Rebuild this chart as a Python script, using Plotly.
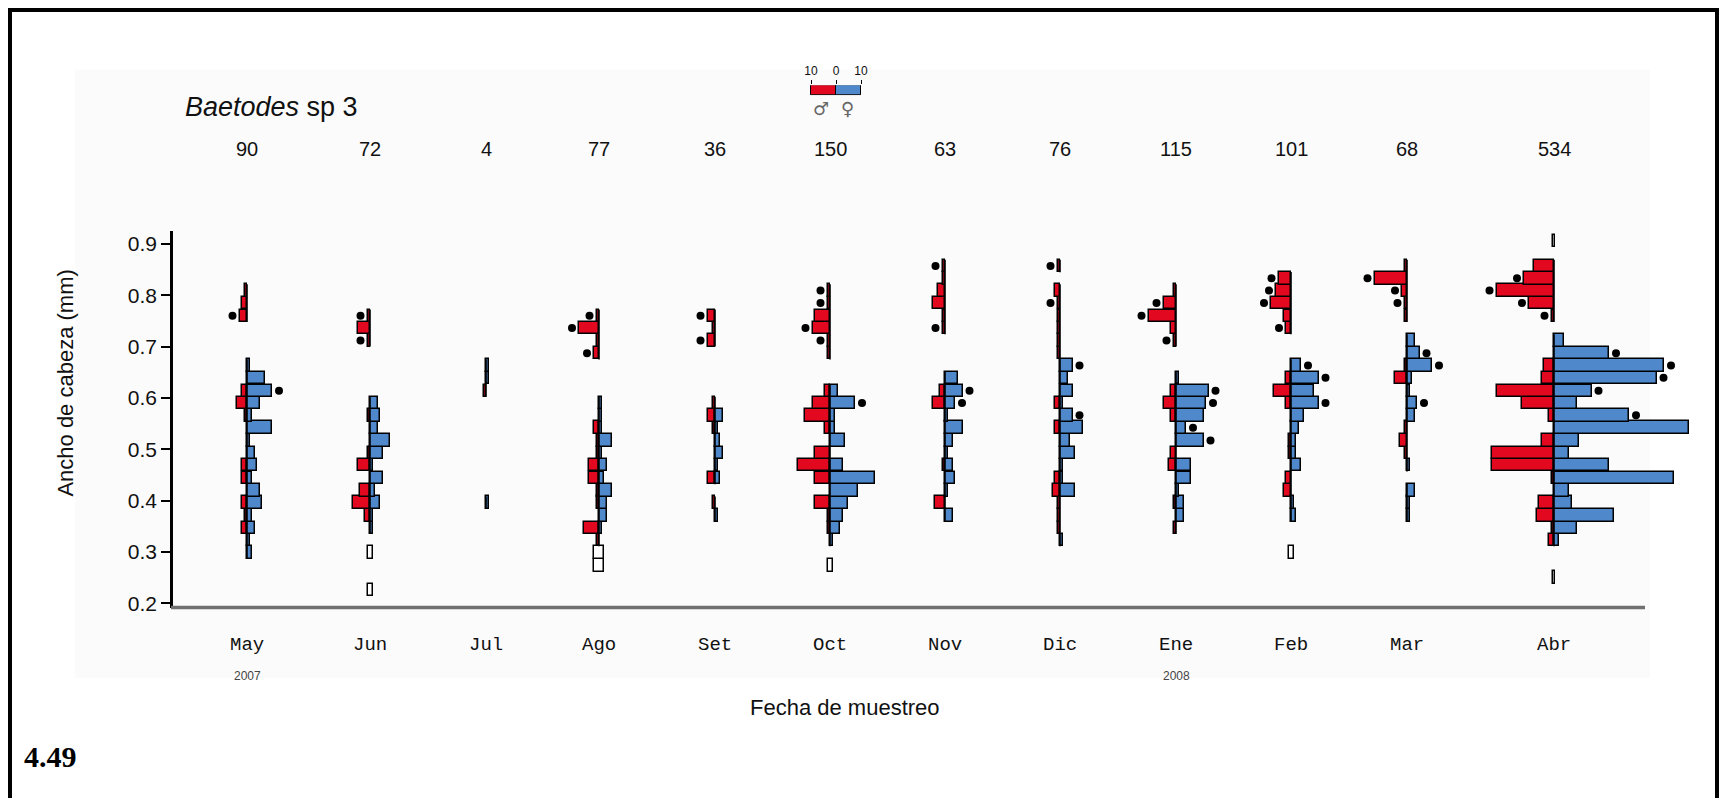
import plotly.graph_objects as go

# ---------------------------------------------------------------------------
# Head-width size classes (bin midpoints, mm) shared by every sampling month
# ---------------------------------------------------------------------------
BIN_MID = [0.226, 0.250, 0.274, 0.299, 0.323, 0.347, 0.371, 0.396, 0.420, 0.444,
           0.469, 0.493, 0.517, 0.542, 0.566, 0.590, 0.614, 0.639, 0.663, 0.687,
           0.712, 0.736, 0.760, 0.785, 0.809, 0.833, 0.857, 0.882, 0.906]
BIN_WIDTH = 0.0243

MONTHS = ["May", "Jun", "Jul", "Ago", "Set", "Oct", "Nov", "Dic", "Ene", "Feb", "Mar", "Abr"]
N_TOTAL = [90, 72, 4, 77, 36, 150, 63, 76, 115, 101, 68, 534]
YEAR_LABELS = {"May": "2007", "Ene": "2008"}
Y_TICKS = [0.2, 0.3, 0.4, 0.5, 0.6, 0.7, 0.8, 0.9]
LEGEND_SCALE = 10

# counts per size class: {bin midpoint: individuals}
may_male = {0.347: 2, 0.371: 1, 0.396: 2, 0.444: 2, 0.469: 2, 0.566: 1, 0.590: 4, 0.614: 2,
            0.760: 3, 0.785: 2, 0.809: 1}
may_female = {0.299: 2, 0.323: 1, 0.347: 3, 0.371: 2, 0.396: 6, 0.420: 5, 0.444: 2, 0.469: 4,
              0.493: 3, 0.517: 1, 0.542: 10, 0.566: 2, 0.590: 5, 0.614: 10, 0.639: 7, 0.663: 1}
may_undet = {}
may_dots_m = [0.760]
may_dots_f = [0.614]

jun_male = {0.371: 2, 0.396: 7, 0.420: 4, 0.469: 5, 0.493: 1, 0.566: 1, 0.712: 1, 0.736: 5, 0.760: 1}
jun_female = {0.347: 1, 0.371: 1, 0.396: 4, 0.420: 2, 0.444: 5, 0.469: 1, 0.493: 5, 0.517: 8,
              0.542: 3, 0.566: 4, 0.590: 3}
jun_undet = {0.226: 2, 0.299: 2}
jun_dots_m = [0.760, 0.712]
jun_dots_f = []

jul_male = {0.614: 1}
jul_female = {0.396: 1, 0.639: 1, 0.663: 1}
jul_undet = {}
jul_dots_m = []
jul_dots_f = []

ago_male = {0.323: 1, 0.347: 6, 0.396: 1, 0.420: 1, 0.444: 4, 0.469: 4, 0.493: 1, 0.517: 1,
            0.542: 2, 0.687: 2, 0.712: 1, 0.736: 8, 0.760: 1}
ago_female = {0.347: 1, 0.371: 3, 0.396: 3, 0.420: 5, 0.444: 2, 0.469: 3, 0.493: 1, 0.517: 5,
              0.542: 1, 0.566: 1, 0.590: 1}
ago_undet = {0.274: 4, 0.299: 4}
ago_dots_m = [0.760, 0.736, 0.687]
ago_dots_f = []

set_male = {0.396: 1, 0.444: 3, 0.542: 1, 0.566: 3, 0.590: 1, 0.712: 3, 0.736: 1, 0.760: 3}
set_female = {0.371: 1, 0.444: 2, 0.469: 1, 0.493: 3, 0.517: 2, 0.542: 1, 0.566: 3}
set_undet = {}
set_dots_m = [0.760, 0.712]
set_dots_f = []

oct_male = {0.347: 1, 0.371: 1, 0.396: 6, 0.444: 6, 0.469: 13, 0.493: 6, 0.542: 2, 0.566: 10,
            0.590: 7, 0.614: 2, 0.687: 1, 0.712: 1, 0.736: 7, 0.760: 6, 0.785: 1, 0.809: 1}
oct_female = {0.323: 1, 0.347: 4, 0.371: 5, 0.396: 7, 0.420: 11, 0.444: 18, 0.469: 5, 0.517: 6,
              0.542: 2, 0.566: 2, 0.590: 10, 0.614: 3}
oct_undet = {0.274: 2}
oct_dots_m = [0.809, 0.785, 0.736, 0.712]
oct_dots_f = [0.590]

nov_male = {0.396: 4, 0.469: 1, 0.590: 5, 0.614: 2, 0.736: 1, 0.760: 1, 0.785: 5, 0.809: 3,
            0.833: 1, 0.857: 1}
nov_female = {0.371: 3, 0.420: 1, 0.444: 4, 0.469: 3, 0.493: 1, 0.517: 3, 0.542: 7, 0.566: 1,
              0.590: 4, 0.614: 7, 0.639: 5}
nov_undet = {}
nov_dots_m = [0.857, 0.736]
nov_dots_f = [0.614, 0.590]

dic_male = {0.347: 1, 0.371: 1, 0.396: 1, 0.420: 3, 0.444: 2, 0.542: 2, 0.590: 2, 0.687: 1,
            0.712: 1, 0.736: 1, 0.760: 1, 0.785: 1, 0.809: 2, 0.857: 1}
dic_female = {0.323: 1, 0.420: 6, 0.444: 1, 0.469: 1, 0.493: 6, 0.517: 4, 0.542: 9, 0.566: 5,
              0.590: 1, 0.614: 5, 0.639: 3, 0.663: 5}
dic_undet = {}
dic_dots_m = [0.857, 0.785]
dic_dots_f = [0.663, 0.566]

ene_male = {0.347: 1, 0.396: 1, 0.469: 3, 0.493: 2, 0.566: 2, 0.590: 5, 0.614: 2, 0.712: 1,
            0.736: 2, 0.760: 11, 0.785: 5, 0.809: 1}
ene_female = {0.371: 3, 0.396: 3, 0.420: 1, 0.444: 6, 0.469: 6, 0.517: 11, 0.542: 4, 0.566: 11,
              0.590: 12, 0.614: 13, 0.639: 1}
ene_undet = {}
ene_dots_m = [0.785, 0.760, 0.712]
ene_dots_f = [0.614, 0.590, 0.542, 0.517]

feb_male = {0.420: 3, 0.444: 2, 0.493: 1, 0.517: 1, 0.590: 2, 0.614: 7, 0.639: 2, 0.736: 2,
            0.760: 3, 0.785: 8, 0.809: 6, 0.833: 5}
feb_female = {0.371: 2, 0.396: 1, 0.469: 4, 0.493: 2, 0.517: 2, 0.542: 3, 0.566: 5, 0.590: 11,
              0.614: 9, 0.639: 11, 0.663: 4}
feb_undet = {0.299: 2}
feb_dots_m = [0.833, 0.809, 0.785, 0.736]
feb_dots_f = [0.663, 0.639, 0.590]

mar_male = {0.493: 1, 0.517: 3, 0.542: 1, 0.639: 5, 0.663: 1, 0.760: 1, 0.785: 1, 0.809: 2,
            0.833: 13, 0.857: 1}
mar_female = {0.371: 1, 0.396: 1, 0.420: 3, 0.469: 1, 0.566: 3, 0.590: 4, 0.614: 1, 0.639: 2,
              0.663: 10, 0.687: 5, 0.712: 3}
mar_undet = {}
mar_dots_m = [0.833, 0.809, 0.785]
mar_dots_f = [0.687, 0.663, 0.590]

abr_male = {0.323: 2, 0.347: 1, 0.371: 7, 0.396: 6, 0.444: 1, 0.469: 25, 0.493: 25, 0.517: 5,
            0.566: 2, 0.590: 13, 0.614: 23, 0.639: 5, 0.663: 4, 0.760: 1, 0.785: 10, 0.809: 23,
            0.833: 12, 0.857: 8}
abr_female = {0.323: 2, 0.347: 9, 0.371: 24, 0.396: 7, 0.420: 6, 0.444: 48, 0.469: 22, 0.493: 6,
              0.517: 10, 0.542: 54, 0.566: 30, 0.590: 9, 0.614: 15, 0.639: 41, 0.663: 44,
              0.687: 22, 0.712: 4}
abr_undet = {0.250: 1, 0.906: 1}
abr_dots_m = [0.833, 0.809, 0.785, 0.760]
abr_dots_f = [0.687, 0.663, 0.639, 0.614, 0.566]

SAMPLES = [
    (may_male, may_female, may_undet, may_dots_m, may_dots_f),
    (jun_male, jun_female, jun_undet, jun_dots_m, jun_dots_f),
    (jul_male, jul_female, jul_undet, jul_dots_m, jul_dots_f),
    (ago_male, ago_female, ago_undet, ago_dots_m, ago_dots_f),
    (set_male, set_female, set_undet, set_dots_m, set_dots_f),
    (oct_male, oct_female, oct_undet, oct_dots_m, oct_dots_f),
    (nov_male, nov_female, nov_undet, nov_dots_m, nov_dots_f),
    (dic_male, dic_female, dic_undet, dic_dots_m, dic_dots_f),
    (ene_male, ene_female, ene_undet, ene_dots_m, ene_dots_f),
    (feb_male, feb_female, feb_undet, feb_dots_m, feb_dots_f),
    (mar_male, mar_female, mar_undet, mar_dots_m, mar_dots_f),
    (abr_male, abr_female, abr_undet, abr_dots_m, abr_dots_f),
]

# ---------------------------------------------------------------------------
# Page geometry (pixels) and styling
# ---------------------------------------------------------------------------
W, H = 1725, 798
CENTERS = [247, 370, 486, 599, 715, 830, 945, 1060, 1176, 1291, 1407, 1554]
PX_PER_COUNT = 2.5
HALF = 150
AXIS_LEFT, AXIS_RIGHT = 171, 1645
PLOT_TOP, PLOT_BOTTOM = 233, 613
Y_AT_09, PX_PER_MM = 246, 518.0
DOT_GAP = 2.8

RED = "#e2081f"
BLUE = "#4f89cb"
SANS = "Liberation Sans, Arial, sans-serif"
MONO = "Liberation Mono, Courier New, monospace"


def fx(p):
    return p / W


def fy(p):
    return 1 - p / H


def value_at(py):
    return 0.9 - (py - Y_AT_09) / PX_PER_MM


def label(xref, x, y, text, font, **kw):
    d = dict(xref=xref, yref="paper", x=x, y=y, text=text, showarrow=False,
             xanchor="center", yanchor="middle", font=font)
    d.update(kw)
    return d


fig = go.Figure()
layout_axes = {}
annotations = []

for i, (month, n, sample) in enumerate(zip(MONTHS, N_TOTAL, SAMPLES)):
    male, female, undet, dots_m, dots_f = sample
    xa = "x" if i == 0 else f"x{i + 1}"
    key = "xaxis" if i == 0 else f"xaxis{i + 1}"
    c = CENTERS[i]
    layout_axes[key] = dict(
        domain=[fx(c - HALF), fx(c + HALF)],
        range=[-HALF / PX_PER_COUNT, HALF / PX_PER_COUNT],
        anchor="y", visible=False, fixedrange=True,
    )

    # centre line through each run of size classes holding sexed individuals
    occupied = sorted({BIN_MID.index(v) for d in (male, female) for v in d if d[v] > 0})
    runs, start, prev = [], None, None
    for k in occupied:
        if start is None:
            start = prev = k
        elif k == prev + 1:
            prev = k
        else:
            runs.append((start, prev))
            start = prev = k
    if start is not None:
        runs.append((start, prev))
    lx, ly = [], []
    for a, b in runs:
        lx += [0, 0, None]
        ly += [BIN_MID[a] - BIN_WIDTH / 2, BIN_MID[b] + BIN_WIDTH / 2, None]
    fig.add_trace(go.Scatter(x=lx, y=ly, mode="lines", xaxis=xa, yaxis="y",
                             line=dict(color="black", width=1.6),
                             hoverinfo="skip", showlegend=False))

    bar_line = dict(color="black", width=1.5)
    ym = [v for v in male if male[v] > 0]
    fig.add_trace(go.Bar(orientation="h", y=ym, x=[-male[v] for v in ym],
                         width=BIN_WIDTH, xaxis=xa, yaxis="y",
                         marker=dict(color=RED, line=bar_line), showlegend=False))
    yf = [v for v in female if female[v] > 0]
    fig.add_trace(go.Bar(orientation="h", y=yf, x=[female[v] for v in yf],
                         width=BIN_WIDTH, xaxis=xa, yaxis="y",
                         marker=dict(color=BLUE, line=bar_line), showlegend=False))
    yu = list(undet)
    if yu:
        fig.add_trace(go.Bar(orientation="h", y=yu, x=[undet[v] for v in yu],
                             base=[-undet[v] / 2 for v in yu],
                             width=BIN_WIDTH, xaxis=xa, yaxis="y",
                             marker=dict(color="white", line=bar_line), showlegend=False))

    dx = [-(male[v] + DOT_GAP) for v in dots_m] + [female[v] + DOT_GAP for v in dots_f]
    dy = list(dots_m) + list(dots_f)
    if dy:
        fig.add_trace(go.Scatter(x=dx, y=dy, mode="markers", xaxis=xa, yaxis="y",
                                 marker=dict(color="black", size=8),
                                 hoverinfo="skip", showlegend=False))

    annotations.append(label(xa, 0, fy(150), str(n),
                             dict(family=SANS, size=20, color="#111")))
    annotations.append(label(xa, 0, fy(651), month,
                             dict(family=MONO, size=19, color="#111")))
    if month in YEAR_LABELS:
        annotations.append(label(xa, 0, fy(682), YEAR_LABELS[month],
                                 dict(family=SANS, size=12, color="#444")))

# sex legend: a 10-individual bar on each side of zero
LEG_C, LEG_HALF = 836, 50
layout_axes["xaxis13"] = dict(
    domain=[fx(LEG_C - LEG_HALF), fx(LEG_C + LEG_HALF)],
    range=[-LEG_HALF / PX_PER_COUNT, LEG_HALF / PX_PER_COUNT],
    anchor="y2", side="top", showgrid=False, zeroline=False, showline=False,
    ticks="outside", ticklen=4, tickwidth=1, tickcolor="black",
    tickvals=[-LEGEND_SCALE, 0, LEGEND_SCALE],
    ticktext=[str(LEGEND_SCALE), "0", str(LEGEND_SCALE)],
    tickfont=dict(family=SANS, size=12, color="#111"), fixedrange=True,
)
fig.add_trace(go.Bar(orientation="h", y=[0], x=[-LEGEND_SCALE], width=1, xaxis="x13", yaxis="y2",
                     marker=dict(color=RED, line=dict(color="black", width=1)), showlegend=False))
fig.add_trace(go.Bar(orientation="h", y=[0], x=[LEGEND_SCALE], width=1, xaxis="x13", yaxis="y2",
                     marker=dict(color=BLUE, line=dict(color="black", width=1)), showlegend=False))
sym_font = dict(family="DejaVu Sans", size=18, color="#666")
annotations.append(label("x13", -LEGEND_SCALE * 0.6, fy(109), "♂", sym_font))
annotations.append(label("x13", LEGEND_SCALE * 0.45, fy(109), "♀", sym_font))

annotations += [
    label("paper", fx(183), fy(108), "<i>Baetodes</i> sp 3",
          dict(family=SANS, size=27, color="#111"), xanchor="left"),
    label("paper", fx(66), fy(387), "Ancho de cabeza (mm)",
          dict(family=SANS, size=22, color="#111"), textangle=-90),
    label("paper", fx(845), fy(714), "Fecha de muestreo",
          dict(family=SANS, size=22, color="#111")),
    label("paper", fx(22), fy(763), "<b>4.49</b>",
          dict(family="Liberation Serif, Times New Roman, serif", size=30, color="black"),
          xanchor="left"),
]

shapes = [
    # faint panel of the figure
    dict(type="rect", xref="paper", yref="paper", x0=fx(75), x1=fx(1650), y0=fy(684), y1=fy(70),
         fillcolor="#fbfbfb", line=dict(width=0), layer="below"),
    # outer frame
    dict(type="rect", xref="paper", yref="paper", x0=fx(10), x1=fx(1717), y0=-0.05, y1=fy(10),
         line=dict(color="black", width=4)),
    # horizontal baseline of the plot
    dict(type="line", xref="paper", yref="paper", x0=fx(AXIS_LEFT), x1=fx(AXIS_RIGHT),
         y0=fy(PLOT_BOTTOM), y1=fy(PLOT_BOTTOM), line=dict(color="#707070", width=3.5)),
]

fig.update_layout(
    width=W, height=H,
    margin=dict(l=0, r=0, t=0, b=0),
    paper_bgcolor="white", plot_bgcolor="rgba(0,0,0,0)",
    barmode="overlay", bargap=0,
    showlegend=False,
    yaxis=dict(
        domain=[fy(PLOT_BOTTOM), fy(PLOT_TOP)],
        range=[value_at(PLOT_BOTTOM), value_at(PLOT_TOP)],
        anchor="free", position=fx(AXIS_LEFT),
        showline=True, linecolor="black", linewidth=2.5,
        ticks="outside", ticklen=9, tickwidth=1.5, tickcolor="black",
        tickvals=Y_TICKS, ticktext=[f"{t:.1f}" for t in Y_TICKS],
        tickfont=dict(family=SANS, size=21, color="#111"),
        showgrid=False, zeroline=False, fixedrange=True,
    ),
    yaxis2=dict(domain=[fy(96), fy(86)], range=[-0.5, 0.5], anchor="x13",
                visible=False, fixedrange=True),
    annotations=annotations,
    shapes=shapes,
    **layout_axes,
)

fig.write_html("out.html")
